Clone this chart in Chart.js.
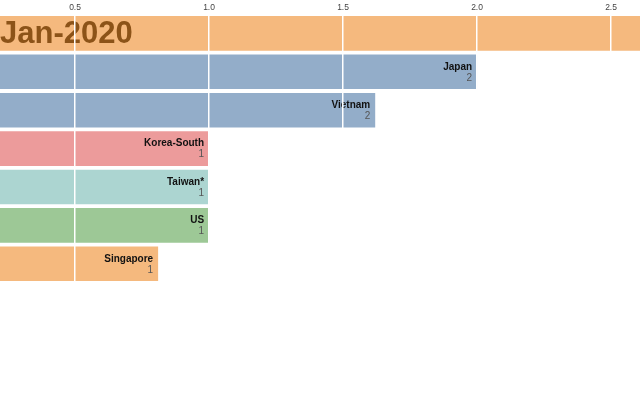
<!DOCTYPE html>
<html>
<head>
<meta charset="utf-8">
<script src="https://cdn.jsdelivr.net/npm/chart.js@4/dist/chart.umd.min.js"></script>
<style>
html,body{margin:0;padding:0;background:#fff;}
#wrap{width:640px;height:400px;position:relative;}
</style>
</head>
<body>
<div id="wrap"><canvas id="c" width="640" height="400"></canvas></div>
<script>
const countries = ['China', 'Japan', 'Vietnam', 'Korea-South', 'Taiwan*', 'US', 'Singapore'];
const barValues = [3.0, 2.0, 1.62, 1.0, 1.0, 1.0, 0.81];
const shownValues = ['3', '2', '2', '1', '1', '1', '1'];
const colorByCountry = ['#f5b97e', '#93adc9', '#93adc9', '#ec9b9b', '#acd5d1', '#9dc896', '#f5b97e'];
const tickValues = [0.5, 1.0, 1.5, 2.0, 2.5];
const axisMin = 0.22;
const axisMax = 2.608;
const dateLabel = 'Jan-2020';

const labelPlugin = {
  id: 'barLabels',
  afterDatasetsDraw(chart) {
    const ctx = chart.ctx;
    const meta = chart.getDatasetMeta(0);
    ctx.save();
    ctx.font = 'bold 31px "Liberation Sans", Arial, sans-serif';
    ctx.fillStyle = '#8c5318';
    ctx.textAlign = 'left';
    ctx.textBaseline = 'middle';
    ctx.fillText(dateLabel, 0, chart.chartArea.top + 20);
    meta.data.forEach((bar, i) => {
      const x = bar.x - 5;
      const y = bar.y;
      ctx.textAlign = 'right';
      ctx.textBaseline = 'middle';
      ctx.font = 'bold 10px "Liberation Sans", Arial, sans-serif';
      ctx.fillStyle = '#111';
      ctx.fillText(countries[i], x, y - 5);
      ctx.font = '10px "Liberation Sans", Arial, sans-serif';
      ctx.fillStyle = '#555';
      ctx.fillText(shownValues[i], x, y + 6);
    });
    ctx.restore();
  }
};

new Chart(document.getElementById('c'), {
  type: 'bar',
  data: {
    labels: countries,
    datasets: [{
      data: barValues,
      backgroundColor: colorByCountry,
      borderWidth: 0,
      barPercentage: 0.9,
      categoryPercentage: 1.0
    }]
  },
  options: {
    indexAxis: 'y',
    responsive: false,
    animation: false,
    devicePixelRatio: 1,
    layout: { padding: { left: 0, right: 0, top: 2, bottom: 117 } },
    plugins: { legend: { display: false }, tooltip: { enabled: false } },
    scales: {
      x: {
        position: 'top',
        min: axisMin,
        max: axisMax,
        afterBuildTicks(scale) {
          scale.ticks = tickValues.map(v => ({ value: v }));
        },
        ticks: {
          autoSkip: false,
          maxRotation: 0,
          padding: 1,
          color: '#444',
          font: { size: 8.5, family: '"Liberation Sans", Arial, sans-serif' },
          callback: v => Number(v).toFixed(1)
        },
        grid: { color: '#ffffff', lineWidth: 1.5, drawTicks: false, z: 1 },
        border: { display: false }
      },
      y: { display: false }
    }
  },
  plugins: [labelPlugin]
});
</script>
</body>
</html>
